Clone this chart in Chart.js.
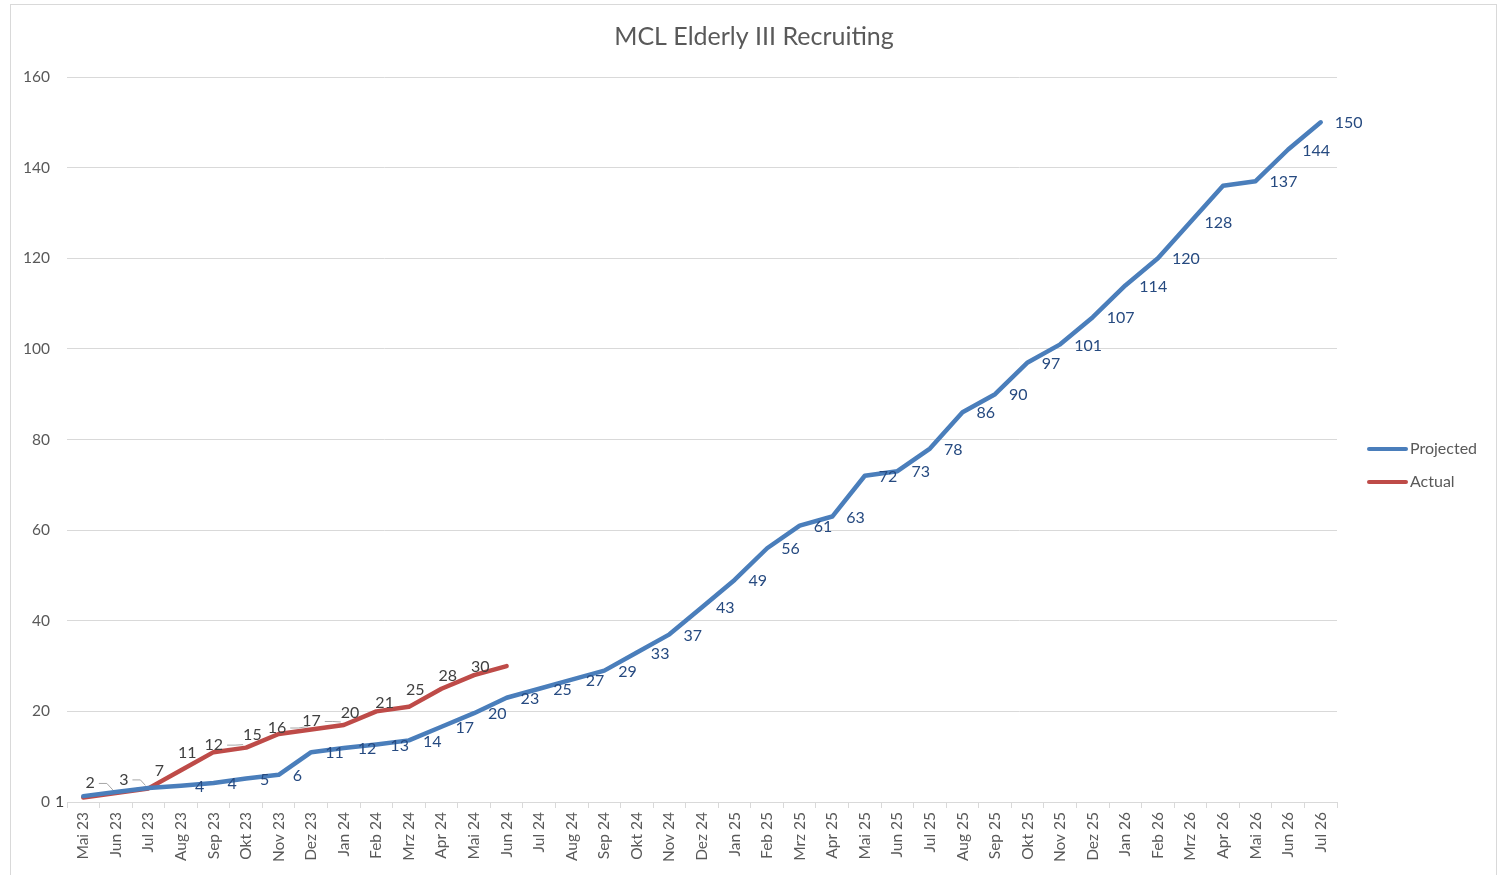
<!DOCTYPE html>
<html>
<head>
<meta charset="utf-8">
<script src="https://cdn.jsdelivr.net/npm/chart.js@4.4.1/dist/chart.umd.min.js"></script>
<style>
html,body{margin:0;padding:0;background:#fff;}
canvas{display:block;}
</style>
</head>
<body>
<canvas id="c" width="1499" height="875"></canvas>
<script>
const categories = ['Mai 23','Jun 23','Jul 23','Aug 23','Sep 23','Okt 23','Nov 23','Dez 23',
  'Jan 24','Feb 24','Mrz 24','Apr 24','Mai 24','Jun 24','Jul 24','Aug 24','Sep 24','Okt 24','Nov 24','Dez 24',
  'Jan 25','Feb 25','Mrz 25','Apr 25','Mai 25','Jun 25','Jul 25','Aug 25','Sep 25','Okt 25','Nov 25','Dez 25',
  'Jan 26','Feb 26','Mrz 26','Apr 26','Mai 26','Jun 26','Jul 26'];
const projected = [1.3, 2.2, 3.1, 3.6, 4.2, 5.2, 6, 11,
  11.9, 12.7, 13.6, 16.6, 19.6, 23, 25, 27, 29, 33, 37, 43,
  49, 56, 61, 63, 72, 73, 78, 86, 90, 97, 101, 107,
  114, 120, 128, 136, 137, 144, 150];
const actual = [1, 2, 3, 7, 11, 12, 15, 16, 17, 20, 21, 25, 28, 30];
const yTicks = [0, 20, 40, 60, 80, 100, 120, 140, 160];
const seriesNames = ['Projected', 'Actual'];
const chartTitle = 'MCL Elderly III Recruiting';

const FONT = 'Lato, "Open Sans", sans-serif';
const BLUE = '#4A7EBB';
const RED = '#BE4B48';
const GRID = '#d9d9d9';
const TXT = '#595959';

// hidden projected labels (indices) and nudges for actual labels [dx, dy, leader]
const hiddenProjected = new Set([0, 1, 2, 35]);
const actualNudge = {0:[-2,3,false],1:[-4,-11,true],2:[-3,-10,true],5:[-6,-4,true],7:[-8,-3,true],8:[-6,-5,true],10:[2,-5,false]};

const decor = {
  id: 'decor',
  beforeDraw(chart) {
    const c = chart.ctx;
    c.save();
    c.fillStyle = '#fff';
    c.fillRect(0, 0, chart.width, chart.height);
    c.strokeStyle = GRID;
    c.lineWidth = 1;
    c.strokeRect(10.5, 4.5, 1486, 890);
    c.restore();
  },
  afterDraw(chart) {
    const c = chart.ctx;
    c.save();
    // title
    c.fillStyle = TXT;
    c.font = '25px ' + FONT;
    c.textAlign = 'center';
    c.textBaseline = 'middle';
    c.fillText(chartTitle, 754, 37);
    // legend
    const colors = [BLUE, RED];
    seriesNames.forEach((n, i) => {
      const y = 449 + i * 33;
      c.strokeStyle = colors[i];
      c.lineWidth = 4;
      c.lineCap = 'round';
      c.beginPath(); c.moveTo(1369, y); c.lineTo(1406, y); c.stroke();
      c.fillStyle = TXT;
      c.font = '16px ' + FONT;
      c.textAlign = 'left';
      c.fillText(n, 1410, y);
    });
    // data labels
    c.font = '16px ' + FONT;
    c.textBaseline = 'middle';
    const m0 = chart.getDatasetMeta(0);
    c.fillStyle = '#264A80';
    c.textAlign = 'left';
    m0.data.forEach((p, i) => {
      if (hiddenProjected.has(i)) return;
      c.fillText(String(Math.round(projected[i])), p.x + 14, p.y + 1);
    });
    const m1 = chart.getDatasetMeta(1);
    m1.data.forEach((p, i) => {
      const nd = actualNudge[i] || [0, 0, false];
      const txt = String(Math.round(actual[i]));
      const rx = p.x - 17 + nd[0];
      const ly = p.y + 1 + nd[1];
      c.fillStyle = '#404040';
      c.textAlign = 'right';
      c.fillText(txt, rx, ly);
      if (nd[2]) {
        c.strokeStyle = '#a6a6a6';
        c.lineWidth = 1;
        c.lineCap = 'butt';
        c.beginPath();
        c.moveTo(rx + 4, ly + 0.5);
        c.lineTo(rx + 12, ly + 0.5);
        c.lineTo(p.x - 3, p.y - 3);
        c.stroke();
      }
    });
    c.restore();
  }
};

new Chart(document.getElementById('c'), {
  type: 'line',
  data: {
    labels: categories,
    datasets: [
      {label: seriesNames[0], data: projected, borderColor: BLUE, backgroundColor: BLUE, borderWidth: 4.5,
       pointRadius: 0, tension: 0, fill: false, borderJoinStyle: 'round', borderCapStyle: 'round'},
      {label: seriesNames[1], data: actual, borderColor: RED, backgroundColor: RED, borderWidth: 4.5,
       pointRadius: 0, tension: 0, fill: false, borderJoinStyle: 'round', borderCapStyle: 'round'}
    ]
  },
  options: {
    responsive: false,
    animation: false,
    layout: {padding: {left: 0, right: 162, top: 77, bottom: 0}},
    plugins: {legend: {display: false}, title: {display: false}, tooltip: {enabled: false}},
    scales: {
      x: {
        offset: true,
        grid: {offset: true, drawOnChartArea: false, color: GRID, tickLength: 6},
        border: {display: true, color: GRID, width: 1},
        ticks: {minRotation: 90, maxRotation: 90, autoSkip: false, color: TXT, padding: 4,
                font: {family: FONT, size: 15.5}},
        afterFit(s) { s.height = 73; }
      },
      y: {
        min: yTicks[0], max: yTicks[yTicks.length - 1],
        afterBuildTicks(s) { s.ticks = yTicks.map(v => ({value: v})); },
        grid: {color: GRID, drawTicks: false},
        border: {display: false},
        ticks: {color: TXT, padding: 17, font: {family: FONT, size: 15.5}},
        afterFit(s) { s.width = 67; }
      }
    }
  },
  plugins: [decor]
});
</script>
</body>
</html>
